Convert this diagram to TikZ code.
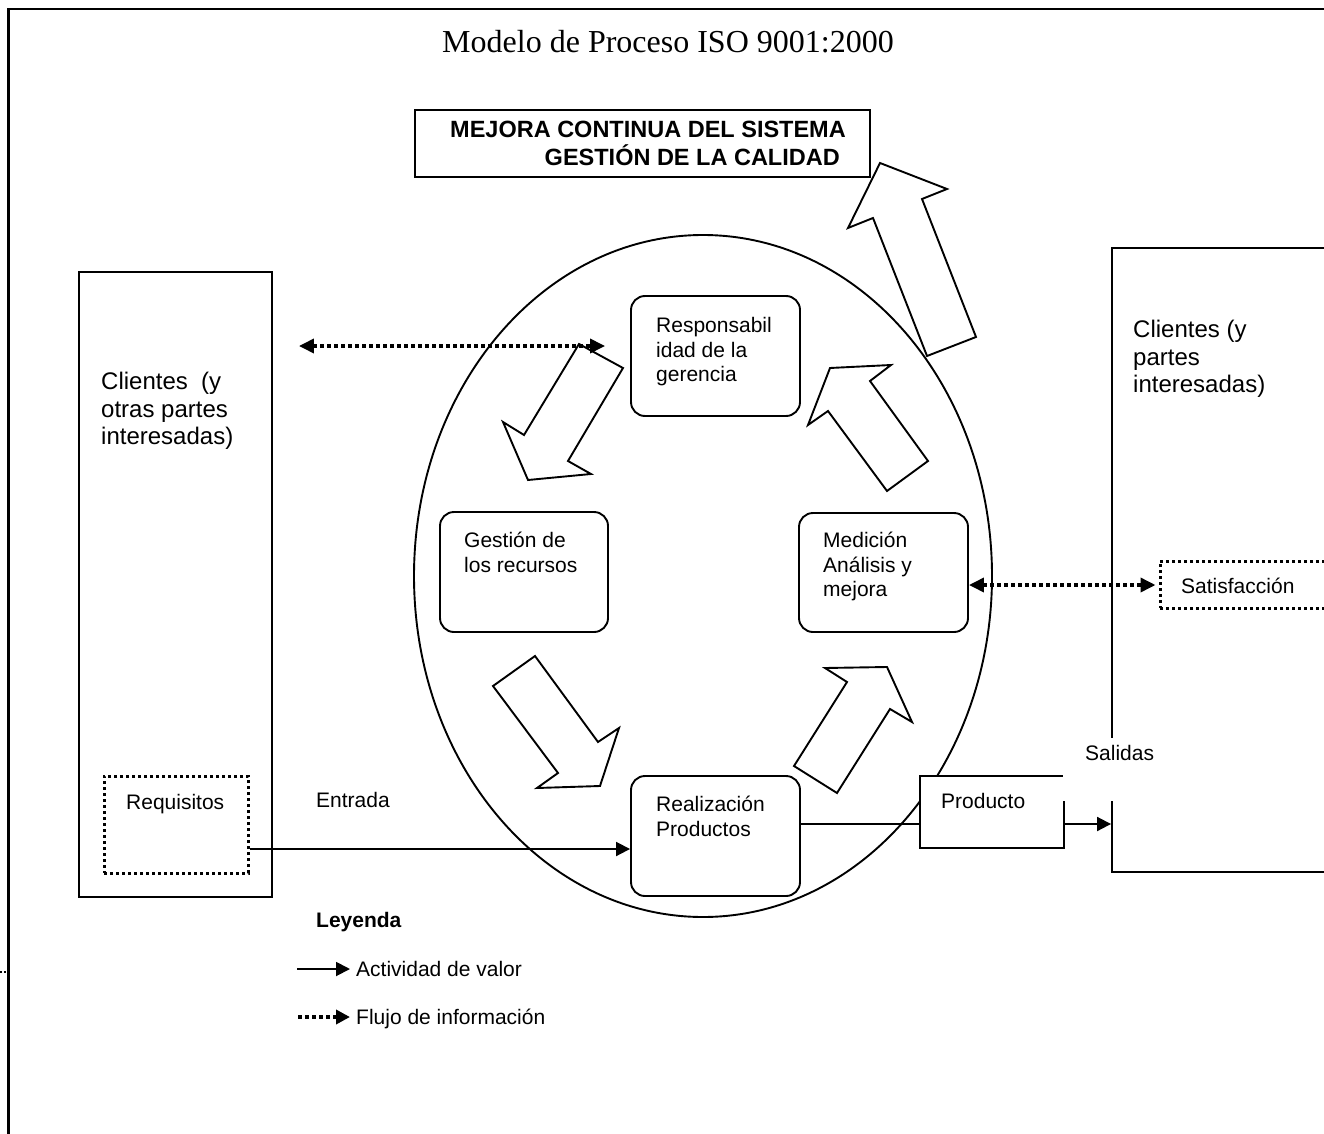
\documentclass[tikz,border=0pt]{standalone}
\usepackage{fontspec}
\setmainfont{Liberation Serif}
\setsansfont{Liberation Sans}
\usetikzlibrary{arrows.meta,shapes.geometric}
\newcommand{\tstr}{\rule{0pt}{1em}}

\begin{document}
\begin{tikzpicture}[x=1pt,y=-1pt,
  line join=miter,
  thin line/.style={line width=1.9pt},
  sqbox/.style={draw, thin line, rectangle, inner sep=0pt},
  rbox/.style={draw, thin line, fill=white, rectangle, rounded corners=14pt, inner sep=0pt,
               minimum width=169pt, minimum height=120pt},
  dotbox/.style={draw, line width=3pt, dash pattern=on 3pt off 3pt, rectangle, inner sep=0pt},
  blockarrow/.style={draw, thin line, fill=white},
  t21/.style={font=\sffamily\fontsize{21}{24.5}\selectfont, inner sep=0pt, anchor=north west, align=left},
  t24/.style={font=\sffamily\fontsize{24}{27.3}\selectfont, inner sep=0pt, anchor=north west, align=left},
  tip/.style={-{Triangle[length=14pt,width=14pt]}},
  value/.style={thin line, tip},
  info/.style={line width=3.5pt, dash pattern=on 4pt off 3pt},
]
\useasboundingbox (0,0) rectangle (1324,1134);

% outer frame (continues beyond the right and bottom edges)
\draw[line width=2.6pt] (8.3,1150) -- (8.3,9) -- (1340,9);
\coordinate (stubA) at (0,972);
\coordinate (stubB) at (8,972);
\draw[line width=1.6pt, dash pattern=on 2pt off 2pt] (stubA) -- (stubB);

% title
\node[font=\fontsize{32}{37}\selectfont, inner sep=0pt] (title) at (668,42) {Modelo de Proceso ISO 9001:2000};

% continual improvement banner
\node[sqbox, fill=white, minimum width=455pt, minimum height=67pt] (mejora) at (642.5,143.5) {};
\node[font=\sffamily\bfseries\fontsize{23.5}{28}\selectfont, inner sep=0pt, anchor=north east, align=right]
  (mejoratxt) at (846,113.9) {\tstr MEJORA CONTINUA DEL SISTEMA\\GESTIÓN DE LA CALIDAD\rule{6pt}{0pt}};

% customers on both sides
\node[sqbox, minimum width=193pt, minimum height=625pt] (cliL) at (175.5,584.5) {};
\node[t24] (cliLtxt) at (101,365.6) {\tstr Clientes\ \ (y\\otras partes\\interesadas)};
\node[sqbox, minimum width=240pt, minimum height=624pt] (cliR) at (1232,560) {};
\node[t24] (cliRtxt) at (1133,313.6) {\tstr Clientes (y\\partes\\interesadas)};

% process cycle
\node[draw, thin line, ellipse, inner sep=0pt, minimum width=578pt, minimum height=682pt] (proc) at (703,576) {};

% big improvement arrow leaving the cycle
\draw[blockarrow] (880,163) -- (947,189) -- (922,199) -- (976,337) -- (927,356) -- (873,218) -- (848,228) -- cycle;
% arrows of the cycle
\draw[blockarrow] (579,344) -- (623,368) -- (568,461) -- (591,474) -- (528,480) -- (503,422) -- (524,435) -- cycle;
\draw[blockarrow] (493,686) -- (535,656) -- (598,742) -- (619,728) -- (600,786) -- (537,788) -- (558,773) -- cycle;
\draw[blockarrow] (794,766) -- (847,682) -- (825,668) -- (887,667) -- (912,722) -- (890,709) -- (837,793) -- cycle;
\draw[blockarrow] (830,368) -- (891,365) -- (870,381) -- (928,461) -- (887,491) -- (828,411) -- (808,425) -- cycle;

% process boxes
\node[rbox] (resp) at (715.5,356) {};
\node[t21] (resptxt) at (656,311.5) {\tstr Responsabil\\idad de la\\gerencia};
\node[rbox, minimum width=168pt] (gest) at (524,572) {};
\node[t21] (gesttxt) at (464,526.5) {\tstr Gestión de\\los recursos};
\node[rbox, minimum height=119pt] (medi) at (883.5,572.5) {};
\node[t21] (meditxt) at (823,526.5) {\tstr Medición\\Análisis y\\mejora};
\node[rbox] (real) at (715.5,836) {};
\node[t21] (realtxt) at (656,790.5) {\tstr Realización\\Productos};

% input and output boxes
\node[dotbox, minimum width=144pt, minimum height=97pt] (req) at (176,824.5) {};
\node[t21] (reqtxt) at (126,788.5) {\tstr Requisitos};
\node[dotbox, minimum width=200pt, minimum height=47pt] (sat) at (1260,584.5) {};
\node[t21] (sattxt) at (1181,572.5) {\tstr Satisfacción};

% connectors
\coordinate (yA) at (0,346);
\coordinate (yB) at (0,585);
\coordinate (yC) at (0,849);
\coordinate (yD) at (0,824);
\draw[info, {Triangle[length=15pt,width=14pt]}-{Triangle[length=15pt,width=14pt]},
      shorten <=26pt, shorten >=25pt] (cliL.east |- yA) -- (resp.west |- yA);
\draw[info, {Triangle[length=15pt,width=14pt]}-{Triangle[length=15pt,width=14pt]},
      shorten >=3pt] (medi.east |- yB) -- (sat.west |- yB);
\draw[value] (req.east |- yC) -- (real.west |- yC);
\node[t21] (entrada) at (316,786.5) {\tstr Entrada};
\draw[thin line] (real.east |- yD) -- (992,824);
\node[sqbox, fill=white, minimum width=144pt, minimum height=72pt] (prod) at (992,812) {};
\node[t21] (prodtxt) at (941,787.5) {\tstr Producto};
\draw[value] (prod.east |- yD) -- (cliR.west |- yD);

% outputs label
\fill[white] (1063,738) rectangle (1150,801);
\node[t21] (salidas) at (1085,739.5) {\tstr Salidas};

% legend
\node[t21, font=\sffamily\bfseries\fontsize{21}{24.5}\selectfont] (leyenda) at (316,906.5) {\tstr Leyenda};
\coordinate (lg1a) at (297,969);
\coordinate (lg1b) at (350,969);
\coordinate (lg2a) at (298,1017);
\coordinate (lg2b) at (350,1017);
\draw[value] (lg1a) -- (lg1b);
\node[t21] (lgtxt1) at (356,955.5) {\tstr Actividad de valor};
\draw[info, -{Triangle[length=14pt,width=14pt]}] (lg2a) -- (lg2b);
\node[t21] (lgtxt2) at (356,1003.5) {\tstr Flujo de información};
\end{tikzpicture}
\end{document}
